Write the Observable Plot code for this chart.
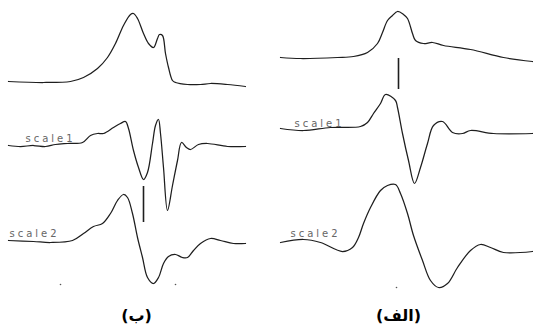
<!DOCTYPE html>
<html>
<head>
<meta charset="utf-8">
<script src="https://cdn.jsdelivr.net/npm/d3@7"></script>
<script src="https://cdn.jsdelivr.net/npm/@observablehq/plot@0.6"></script>
<style>
  html, body { margin: 0; padding: 0; background: #fff; }
  #chart svg { display: block; }
</style>
</head>
<body>
<div id="chart"></div>
<script>
// Traces: [sample position, depth (down = larger)]
const leftTop = [[8,81],[43,82],[70,81],[83,77],[97,68],[107,57],[115,43],[123,25],[130,14],[133,13],[137,18],[143,33],[148,43],[153,47],[157,38],[159,34],[162,35],[165,53],[168,67],[172,80],[175,82],[187,84],[200,84],[210,83],[227,84],[245,86]];
const leftScale1 = [[8,145],[20,146],[33,145],[45,146],[55,144],[67,143],[82,142],[90,135],[97,133],[103,133],[113,127],[120,123],[125,121],[128,128],[133,150],[138,167],[143,179],[147,172],[152,143],[155,125],[158,119],[160,133],[163,167],[167,210],[172,185],[177,160],[181,142],[186,147],[190,149],[198,144],[207,143],[227,146],[245,146]];
const leftScale2 = [[8,240],[33,241],[50,242],[72,240],[83,233],[93,226],[102,223],[110,213],[117,200],[123,194],[127,197],[132,213],[137,237],[142,257],[147,277],[153,283],[158,277],[163,263],[168,256],[175,254],[182,257],[187,257],[193,250],[200,243],[210,238],[220,240],[233,243],[245,243]];
const rightTop = [[280,57],[300,58],[337,57],[353,56],[367,52],[377,43],[382,32],[387,20],[392,15],[397,11],[403,14],[407,18],[412,33],[415,40],[423,43],[432,42],[443,45],[470,49],[503,57],[532,61]];
const rightScale1 = [[280,128],[303,130],[330,127],[360,126],[367,122],[373,113],[380,103],[385,94],[395,100],[397,107],[402,133],[408,160],[414,183],[420,167],[427,143],[433,125],[442,121],[452,132],[462,133],[470,130],[493,133],[532,133]];
const rightScale2 = [[280,242],[303,239],[320,242],[342,251],[352,247],[358,237],[363,223],[370,207],[380,190],[387,185],[395,184],[400,193],[407,213],[413,235],[422,260],[430,280],[438,287],[447,283],[457,267],[470,250],[480,244],[490,247],[503,252],[532,251]];

// Marker bars: [x, y1, y2]
const markers = [[143,186,222],[398,58,89]];
// Small tick dots
const dots = [[60,284],[175,284],[396,287]];
// Trace labels: [text, x, y]
const scaleLabels = [["scale1",25,138],["scale2",9,233],["scale1",294,123],["scale2",290,233]];
// Panel captions: [text, x, y]
const captions = [["(ب)",136,315],["(الف)",398,315]];

const traces = [leftTop, leftScale1, leftScale2, rightTop, rightScale1, rightScale2];

const chart = Plot.plot({
  width: 533,
  height: 327,
  margin: 0,
  x: {domain: [0, 533], axis: null},
  y: {domain: [0, 327], reverse: true, axis: null},
  style: {background: "#fff"},
  marks: [
    ...traces.map(t => Plot.line(t, {x: d => d[0], y: d => d[1], stroke: "#1e1e1e", strokeWidth: 1.25, curve: "catmull-rom"})),
    Plot.ruleX(markers, {x: d => d[0], y1: d => d[1], y2: d => d[2], stroke: "#1e1e1e", strokeWidth: 1.6}),
    Plot.dot(dots, {x: d => d[0], y: d => d[1], r: 0.8, fill: "#555", stroke: null}),
    Plot.text(scaleLabels, {x: d => d[1], y: d => d[2], text: d => d[0], textAnchor: "start", fontSize: 10, fill: "#666", fontFamily: "DejaVu Sans"}),
    Plot.text(captions, {x: d => d[1], y: d => d[2], text: d => d[0], textAnchor: "middle", fontSize: 16, fontWeight: "bold", fill: "#000", fontFamily: "DejaVu Sans"})
  ]
});
d3.select(chart).selectAll("text").filter(function() { return this.textContent.startsWith("scale"); })
  .attr("letter-spacing", "3px");
document.getElementById("chart").appendChild(chart);
</script>
</body>
</html>
